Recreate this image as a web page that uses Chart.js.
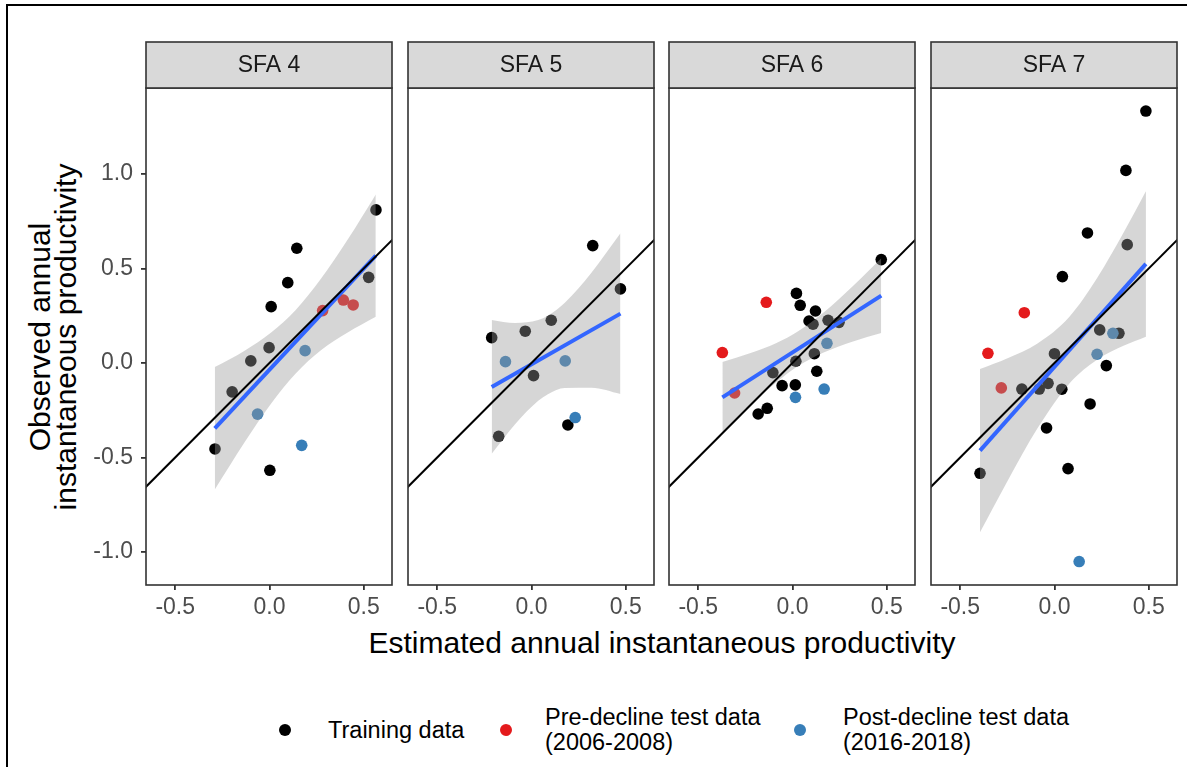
<!DOCTYPE html>
<html>
<head>
<meta charset="utf-8">
<title>Observed vs estimated productivity by SFA</title>
<script src="https://cdn.jsdelivr.net/npm/chart.js@4.4.0/dist/chart.umd.min.js"></script>
<style>
  body { margin: 0; background: #fff; font-family: "Liberation Sans", Arial, sans-serif; }
  #wrap { position: relative; width: 1187px; height: 767px; overflow: hidden; }
  .frame { position: absolute; left: 6px; top: 4px; width: 1400px; height: 1000px;
           border-left: 2px solid #000; border-top: 2px solid #000; }
  canvas { position: absolute; }
  .ytitle { position: absolute; left: 53px; top: 337px; white-space: nowrap; text-align: center;
            font-size: 30px; line-height: 26px; color: #000;
            transform: translate(-50%, -50%) rotate(-90deg); }
  .xtitle { position: absolute; left: 662px; top: 643px; white-space: nowrap;
            font-size: 30px; color: #000; transform: translate(-50%, -50%); }
  .key { position: absolute; font-size: 23.5px; line-height: 25px; color: #000; white-space: nowrap;
         transform: translateY(-50%); }
  .dot { position: absolute; width: 12px; height: 12px; border-radius: 50%; transform: translate(-50%, -50%); }
</style>
</head>
<body>
<div id="wrap">
  <div class="frame"></div>
  <div class="ytitle">Observed annual<br>instantaneous productivity</div>
  <div class="xtitle">Estimated annual instantaneous productivity</div>
  <div class="dot" style="left:285px;top:730px;background:#000"></div>
  <div class="key" style="left:328px;top:730px">Training data</div>
  <div class="dot" style="left:506px;top:730px;background:#E41A1C"></div>
  <div class="key" style="left:545px;top:730px">Pre-decline test data<br>(2006-2008)</div>
  <div class="dot" style="left:800px;top:730px;background:#377EB8"></div>
  <div class="key" style="left:843px;top:730px">Post-decline test data<br>(2016-2018)</div>
</div>
<script>
// facets
const areas = ['SFA 4', 'SFA 5', 'SFA 6', 'SFA 7'];

// training years, per facet
const trainX = [
  [0.565, 0.145, 0.097, 0.009, 0.526, -0.002, -0.099, -0.198, -0.289, 0.002],
  [0.325, 0.472, 0.105, -0.033, -0.211, 0.011, -0.174, 0.193],
  [0.471, 0.021, 0.041, 0.122, 0.088, 0.109, 0.189, 0.247, 0.116, 0.018, -0.104, 0.129, -0.055, 0.015, -0.134, -0.182],
  [0.485, 0.379, 0.175, 0.386, 0.042, 0.240, 0.342, 0.000, 0.275, -0.173, -0.081, -0.034, 0.039, 0.189, -0.042, 0.072, -0.395]
];
const trainY = [
  [0.810, 0.607, 0.425, 0.298, 0.453, 0.081, 0.011, -0.153, -0.455, -0.568],
  [0.621, 0.392, 0.226, 0.168, 0.134, -0.067, -0.388, -0.328],
  [0.547, 0.368, 0.305, 0.275, 0.222, 0.205, 0.226, 0.215, 0.049, 0.009, -0.051, -0.044, -0.120, -0.116, -0.240, -0.270],
  [1.333, 1.019, 0.688, 0.626, 0.457, 0.175, 0.157, 0.049, -0.014, -0.138, -0.138, -0.108, -0.139, -0.217, -0.344, -0.559, -0.584]
];

// pre-decline test years (2006-2008)
const preX = [[0.282, 0.392, 0.444], [], [-0.139, -0.372, -0.307], [-0.160, -0.353, -0.282]];
const preY = [[0.277, 0.333, 0.307], [], [0.321, 0.055, -0.159], [0.266, 0.051, -0.132]];

// post-decline test years (2016-2018)
const postX = [[0.189, -0.063, 0.171], [-0.138, 0.179, 0.232], [0.183, 0.168, 0.016], [0.310, 0.226, 0.131]];
const postY = [[0.065, -0.271, -0.436], [0.007, 0.011, -0.289], [0.104, -0.138, -0.182], [0.157, 0.046, -1.051]];

// linear fit ends
const fitX = [[-0.290, 0.564], [-0.211, 0.472], [-0.372, 0.471], [-0.395, 0.485]];
const fitY = [[-0.346, 0.568], [-0.127, 0.261], [-0.182, 0.356], [-0.464, 0.524]];

// confidence band of the fit
const bandX = [
  [-0.290, -0.132, 0.009, 0.138, 0.273, 0.415, 0.564],
  [-0.211, -0.087, 0.036, 0.087, 0.177, 0.318, 0.472],
  [-0.372, -0.226, -0.085, 0.034, 0.162, 0.321, 0.471],
  [-0.395, -0.249, -0.090, 0.077, 0.228, 0.369, 0.485]
];
const bandUpper = [
  [-0.022, 0.065, 0.161, 0.279, 0.445, 0.653, 0.892],
  [0.227, 0.211, 0.227, 0.250, 0.319, 0.478, 0.686],
  [0.005, 0.051, 0.105, 0.170, 0.264, 0.407, 0.554],
  [-0.032, 0.025, 0.103, 0.242, 0.452, 0.694, 0.908]
];
const bandLower = [
  [-0.670, -0.420, -0.214, -0.057, 0.067, 0.161, 0.244],
  [-0.481, -0.324, -0.200, -0.165, -0.132, -0.131, -0.164],
  [-0.369, -0.227, -0.102, -0.014, 0.054, 0.114, 0.159],
  [-0.896, -0.624, -0.346, -0.111, 0.018, 0.092, 0.139]
];

// 1:1 line
const oneToOne = [-1.5, 1.5];

const xTicks = [-0.5, 0, 0.5];
const yTicks = [-1, -0.5, 0, 0.5, 1];
const xRange = [-0.655, 0.65];
const yRange = [-1.175, 1.455];

Chart.defaults.font.family = '"Liberation Sans", Arial, sans-serif';

const panelLeft = [146, 408, 669, 931];
const panelWidth = 246;
const yAxisWidth = 56;

function pts(xs, ys) {
  return xs.map((x, i) => ({ x: x, y: ys[i] }));
}

// panel border + grey strip with the facet name
const facetBox = {
  id: 'facetBox',
  afterDraw(chart, args, opts) {
    const a = chart.chartArea;
    const ctx = chart.ctx;
    ctx.save();
    ctx.strokeStyle = '#333333';
    ctx.lineWidth = 1.6;
    ctx.strokeRect(a.left, a.top, a.right - a.left, a.bottom - a.top);
    ctx.fillStyle = '#D9D9D9';
    ctx.fillRect(a.left, a.top - 46, a.right - a.left, 46);
    ctx.strokeRect(a.left, a.top - 46, a.right - a.left, 46);
    ctx.fillStyle = '#1A1A1A';
    ctx.font = '23px "Liberation Sans", Arial, sans-serif';
    ctx.textAlign = 'center';
    ctx.textBaseline = 'middle';
    ctx.fillText(opts.label, (a.left + a.right) / 2, a.top - 22);
    ctx.restore();
  }
};

areas.forEach(function (name, i) {
  const padL = i === 0 ? yAxisWidth : 8;
  const cv = document.createElement('canvas');
  cv.width = padL + panelWidth + 8;
  cv.height = 589;
  cv.style.left = (panelLeft[i] - padL) + 'px';
  cv.style.top = '36px';
  document.getElementById('wrap').appendChild(cv);

  new Chart(cv, {
    type: 'scatter',
    data: {
      datasets: [
        { type: 'line', data: pts(oneToOne, oneToOne), borderColor: '#000', borderWidth: 2,
          pointRadius: 0, fill: false },
        { type: 'line', data: pts(fitX[i], fitY[i]), borderColor: '#3366FF', borderWidth: 4,
          pointRadius: 0, fill: false },
        { type: 'line', data: pts(bandX[i], bandUpper[i]), borderColor: 'rgba(0,0,0,0)', borderWidth: 0,
          pointRadius: 0, cubicInterpolationMode: 'monotone', fill: '+1',
          backgroundColor: 'rgba(153,153,153,0.4)' },
        { type: 'line', data: pts(bandX[i], bandLower[i]), borderColor: 'rgba(0,0,0,0)', borderWidth: 0,
          pointRadius: 0, cubicInterpolationMode: 'monotone', fill: false },
        { data: pts(postX[i], postY[i]), backgroundColor: '#377EB8', borderWidth: 0, pointRadius: 5.8 },
        { data: pts(preX[i], preY[i]), backgroundColor: '#E41A1C', borderWidth: 0, pointRadius: 5.8 },
        { data: pts(trainX[i], trainY[i]), backgroundColor: '#000000', borderWidth: 0, pointRadius: 5.8 }
      ]
    },
    options: {
      responsive: false,
      animation: false,
      events: [],
      layout: { padding: { top: 52, right: 8, left: i === 0 ? 0 : 8, bottom: 0 } },
      plugins: {
        legend: { display: false },
        tooltip: { enabled: false },
        facetBox: { label: name }
      },
      scales: {
        x: {
          type: 'linear', min: xRange[0], max: xRange[1],
          afterBuildTicks: s => { s.ticks = xTicks.map(v => ({ value: v })); },
          afterFit: s => { s.height = 40; },
          grid: { drawOnChartArea: false, drawTicks: true, tickLength: 5, color: '#333333', lineWidth: 1.8 },
          border: { display: false },
          ticks: { color: '#4D4D4D', font: { size: 23 }, padding: 4, maxRotation: 0, autoSkip: false,
                   callback: v => v.toFixed(1) }
        },
        y: {
          type: 'linear', min: yRange[0], max: yRange[1], display: i === 0,
          afterBuildTicks: s => { s.ticks = yTicks.map(v => ({ value: v })); },
          // only the first facet carries the y axis
          afterFit: s => { s.width = i === 0 ? yAxisWidth : 0; },
          grid: { drawOnChartArea: false, drawTicks: true, tickLength: 5, color: '#333333', lineWidth: 1.8 },
          border: { display: false },
          ticks: { color: '#4D4D4D', font: { size: 23 }, padding: 8, autoSkip: false,
                   callback: v => v.toFixed(1) }
        }
      }
    },
    plugins: [facetBox]
  });
});
</script>
</body>
</html>
